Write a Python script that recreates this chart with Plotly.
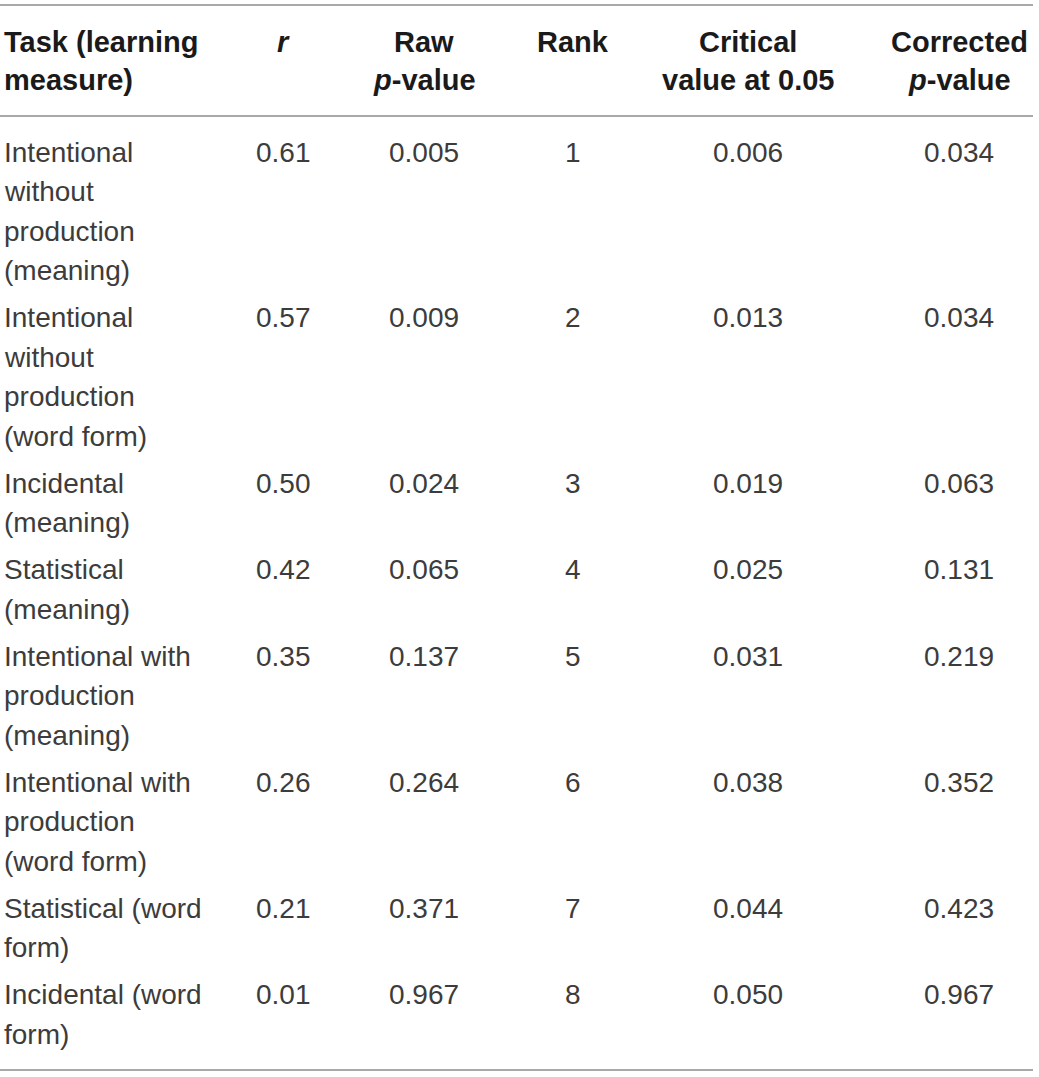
import plotly.graph_objects as go

# table content
headers = [
    ["Task (learning", "measure)"],
    ["<i>r</i>"],
    ["Raw", "<i>p</i>-value"],
    ["Rank"],
    ["Critical", "value at 0.05"],
    ["Corrected", "<i>p</i>-value"],
]
tasks = [
    ["Intentional", "without", "production", "(meaning)"],
    ["Intentional", "without", "production", "(word form)"],
    ["Incidental", "(meaning)"],
    ["Statistical", "(meaning)"],
    ["Intentional with", "production", "(meaning)"],
    ["Intentional with", "production", "(word form)"],
    ["Statistical (word", "form)"],
    ["Incidental (word", "form)"],
]
r_vals = ["0.61", "0.57", "0.50", "0.42", "0.35", "0.26", "0.21", "0.01"]
raw_p = ["0.005", "0.009", "0.024", "0.065", "0.137", "0.264", "0.371", "0.967"]
ranks = ["1", "2", "3", "4", "5", "6", "7", "8"]
critical = ["0.006", "0.013", "0.019", "0.025", "0.031", "0.038", "0.044", "0.050"]
corrected = ["0.034", "0.034", "0.063", "0.131", "0.219", "0.352", "0.423", "0.967"]

W, H = 1039, 1077
FONT = "Liberation Sans, Arial, sans-serif"
BODY_SIZE = 28
HEAD_SIZE = 29
LINE_H = 39.5
ROW_GAP = 7.5
col_x = [2, 283, 424, 573, 748, 959]
RULE = "#8c8c8c"

fig = go.Figure()
ann = []


def add_text(x, y, text, anchor, bold=False):
    ann.append(dict(
        x=x, y=y, xref="x", yref="y", text=f"<b>{text}</b>" if bold else text,
        showarrow=False, xanchor=anchor, yanchor="middle",
        font=dict(family=FONT, size=HEAD_SIZE if bold else BODY_SIZE,
                  color="#1a1a1a" if bold else "#3c3c3c"),
    ))


# header
for i, lines in enumerate(headers):
    for j, ln in enumerate(lines):
        add_text(col_x[i], 42 + j * 38, ln, "left" if i == 0 else "center", bold=True)

# body rows
y = 152
for k, lines in enumerate(tasks):
    for j, ln in enumerate(lines):
        add_text(col_x[0], y + j * LINE_H, ln, "left")
    for i, col in enumerate([r_vals, raw_p, ranks, critical, corrected], start=1):
        add_text(col_x[i], y, col[k], "center")
    y += len(lines) * LINE_H + ROW_GAP

shapes = [
    dict(type="line", xref="x", yref="y", x0=0, x1=1033, y0=yy, y1=yy,
         line=dict(color=RULE, width=1.3))
    for yy in (5, 116, 1070)
]

fig.update_layout(
    width=W, height=H,
    margin=dict(l=0, r=0, t=0, b=0),
    paper_bgcolor="white", plot_bgcolor="white",
    xaxis=dict(range=[0, W], visible=False, fixedrange=True),
    yaxis=dict(range=[H, 0], visible=False, fixedrange=True),
    annotations=ann, shapes=shapes, showlegend=False,
)
# drop the default 8px body margin so the figure sits flush in the window
fig.write_html("out.html", config={"displayModeBar": False},
               post_script="document.body.style.margin='0';")
